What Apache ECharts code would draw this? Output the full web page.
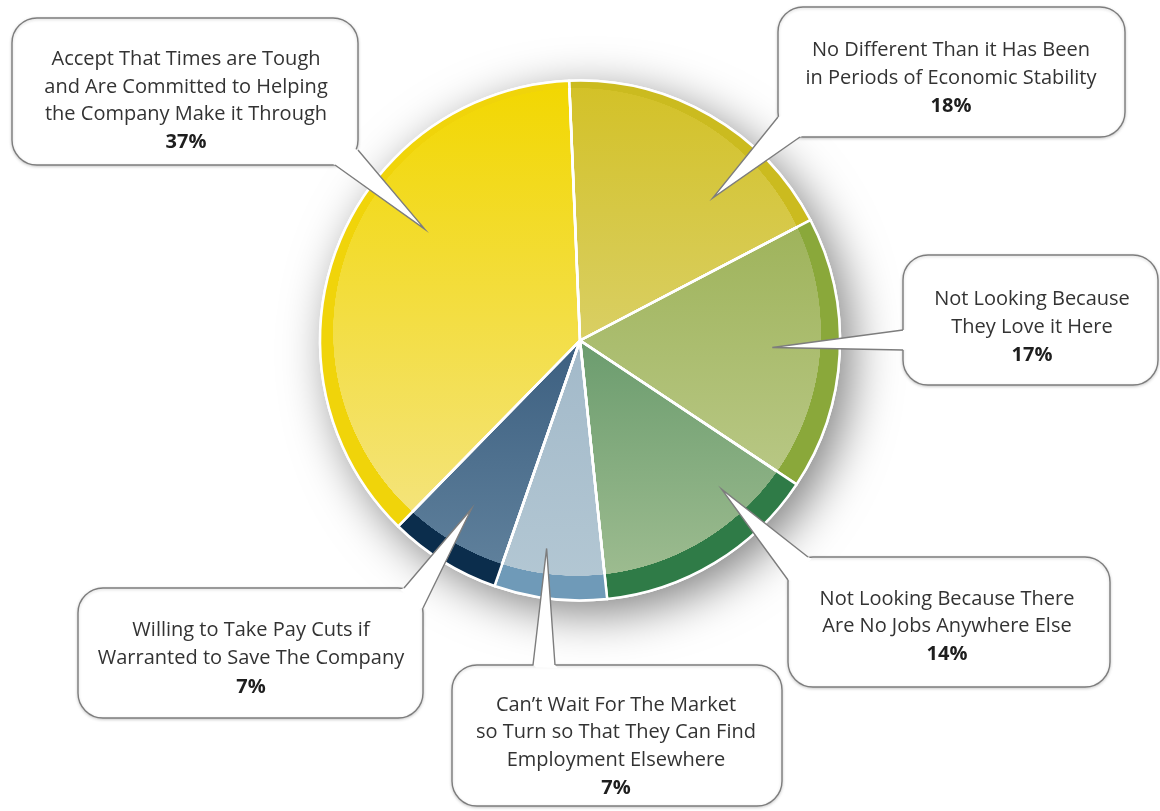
<!DOCTYPE html>
<html>
<head>
<meta charset="utf-8">
<script src="https://cdn.jsdelivr.net/npm/echarts@6/dist/echarts.min.js"></script>
<style>
  html, body { margin: 0; padding: 0; background: #ffffff; }
  #chart { width: 1160px; height: 811px; }
</style>
</head>
<body>
<div id="chart"></div>
<script>
// Survey answers, clockwise from twelve o'clock
const categories = [
  'No Different Than it Has Been\nin Periods of Economic Stability',
  'Not Looking Because\nThey Love it Here',
  'Not Looking Because There\nAre No Jobs Anywhere Else',
  'Can\u2019t Wait For The Market\nso Turn so That They Can Find\nEmployment Elsewhere',
  'Willing to Take Pay Cuts if\nWarranted to Save The Company',
  'Accept That Times are Tough\nand Are Committed to Helping\nthe Company Make it Through'
];
const values = [18, 17, 14, 7, 7, 37];

// Slice fills: light face (top -> bottom) and darker outer rim
const faceTop    = ['#d3c126', '#9eb35a', '#6b9c6e', '#a2b9c9', '#3c5f80', '#f2d700'];
const faceBottom = ['#d9cf64', '#b9c886', '#a2bf93', '#b4c8d4', '#62839e', '#f4e47e'];
const rimColors  = ['#cbbb1f', '#8aa83a', '#2f7b47', '#6f9ab8', '#0b2d4c', '#f0d40a'];

// Pie geometry
const CENTER = [580, 340.5];
const RADIUS = 260;
const START_ANGLE = 92.4;
const FACE = { x: 577, y: 332, r: 244 };   // light face, shifted up-left

// Speech bubbles: box, tail base points, tail tip placement inside the slice
const bubbles = [
  { box: [778, 7, 347, 130],  a: [778, 117], b: [800, 137], tipT: 0.70,  tipR: 0.75,  tx: 951,  ty: 50,    step: 28 },
  { box: [903, 255, 255, 130], a: [903, 330], b: [903, 350], tipT: 0.485, tipR: 0.74,  tx: 1032, ty: 299,   step: 28 },
  { box: [788, 557, 322, 130], a: [808, 557], b: [788, 580], tipT: 0.254, tipR: 0.79,  tx: 947,  ty: 599,   step: 27.5 },
  { box: [452, 665, 330, 141], a: [533, 665], b: [555, 665], tipT: 0.60,  tipR: 0.81,  tx: 616,  ty: 705,   step: 27.7 },
  { box: [78, 588, 345, 130],  a: [404, 588], b: [423, 608], tipT: 0.54,  tipR: 0.77,  tx: 251,  ty: 630.5, step: 28.2 },
  { box: [12, 18, 346, 147],   a: [335, 165], b: [358, 150], tipT: 0.61,  tipR: 0.735, tx: 186,  ty: 59.7,  step: 27.5 }
];

const FONT_FAMILY = '"Open Sans", "Noto Sans", sans-serif';
const total = values.reduce((s, v) => s + v, 0);

function hexToRgba(hex, a) {
  const n = parseInt(hex.slice(1), 16);
  return 'rgba(' + ((n >> 16) & 255) + ',' + ((n >> 8) & 255) + ',' + (n & 255) + ',' + a + ')';
}

const faceData = values.map((v, i) => ({
  name: categories[i],
  value: v,
  itemStyle: {
    color: {
      type: 'linear', x: 0, y: 0, x2: 0, y2: 1,
      colorStops: [{ offset: 0, color: faceTop[i] }, { offset: 1, color: faceBottom[i] }]
    }
  }
}));

const rimData = values.map((v, i) => ({
  name: categories[i],
  value: v,
  itemStyle: {
    color: {
      type: 'radial', x: FACE.x, y: FACE.y, r: FACE.r, global: true,
      colorStops: [
        { offset: 0, color: hexToRgba(rimColors[i], 0) },
        { offset: 0.999, color: hexToRgba(rimColors[i], 0) },
        { offset: 1, color: rimColors[i] }
      ]
    }
  }
}));

// Tail tips follow each slice's own angular span
function tipPoint(i) {
  const before = values.slice(0, i).reduce((s, v) => s + v, 0);
  const a0 = START_ANGLE - 360 * before / total;
  const span = 360 * values[i] / total;
  const ang = (a0 - bubbles[i].tipT * span) * Math.PI / 180;
  const d = RADIUS * bubbles[i].tipR;
  return [CENTER[0] + d * Math.cos(ang), CENTER[1] - d * Math.sin(ang)];
}

function towards(p, c, d) {
  const dx = c[0] - p[0], dy = c[1] - p[1];
  const l = Math.sqrt(dx * dx + dy * dy) || 1;
  return [p[0] + dx / l * d, p[1] + dy / l * d];
}

const graphics = [];
bubbles.forEach((bb, i) => {
  const [x, y, w, h] = bb.box;
  const c = [x + w / 2, y + h / 2];
  const tip = tipPoint(i);
  graphics.push({
    type: 'rect', z: 100, silent: true,
    shape: { x: x, y: y, width: w, height: h, r: 25 },
    style: { fill: '#ffffff', stroke: '#7d7d7d', lineWidth: 1.4,
             shadowBlur: 3, shadowColor: 'rgba(0,0,0,0.18)', shadowOffsetY: 1 }
  });
  graphics.push({
    type: 'polygon', z: 101, silent: true,
    shape: { points: [towards(bb.a, c, 4), bb.a, tip, bb.b, towards(bb.b, c, 4)] },
    style: { fill: '#ffffff', stroke: null }
  });
  graphics.push({
    type: 'polyline', z: 102, silent: true,
    shape: { points: [bb.a, tip, bb.b] },
    style: { stroke: '#7d7d7d', lineWidth: 1.4, fill: null }
  });
  const lines = categories[i].split('\n');
  lines.forEach((ln, k) => {
    graphics.push({
      type: 'text', z: 103, silent: true,
      x: bb.tx, y: bb.ty + k * bb.step,
      style: { text: ln, fill: '#333333', fontFamily: FONT_FAMILY, fontSize: 20,
               align: 'center', verticalAlign: 'middle' }
    });
  });
  graphics.push({
    type: 'text', z: 103, silent: true,
    x: bb.tx, y: bb.ty + lines.length * bb.step,
    style: { text: values[i] + '%', fill: '#1e1e1e', fontFamily: FONT_FAMILY, fontSize: 20,
             fontWeight: 'bold', align: 'center', verticalAlign: 'middle' }
  });
});

const commonPie = {
  type: 'pie',
  center: CENTER,
  radius: RADIUS,
  startAngle: START_ANGLE,
  clockwise: true,
  silent: true,
  label: { show: false },
  labelLine: { show: false },
  emphasis: { disabled: true }
};

const chart = echarts.init(document.getElementById('chart'), null, { renderer: 'canvas' });
chart.setOption({
  backgroundColor: '#ffffff',
  animation: false,
  series: [
    Object.assign({}, commonPie, {
      z: 1,
      data: [{ value: total, itemStyle: { color: '#ffffff', shadowBlur: 48,
        shadowColor: 'rgba(0,0,0,0.5)', shadowOffsetX: 11, shadowOffsetY: 12 } }]
    }),
    Object.assign({}, commonPie, {
      z: 2,
      itemStyle: { borderColor: '#ffffff', borderWidth: 2.5 },
      data: faceData
    }),
    Object.assign({}, commonPie, {
      z: 3,
      itemStyle: { borderColor: '#ffffff', borderWidth: 2.5 },
      data: rimData
    })
  ],
  graphic: { elements: graphics }
});
</script>
</body>
</html>
